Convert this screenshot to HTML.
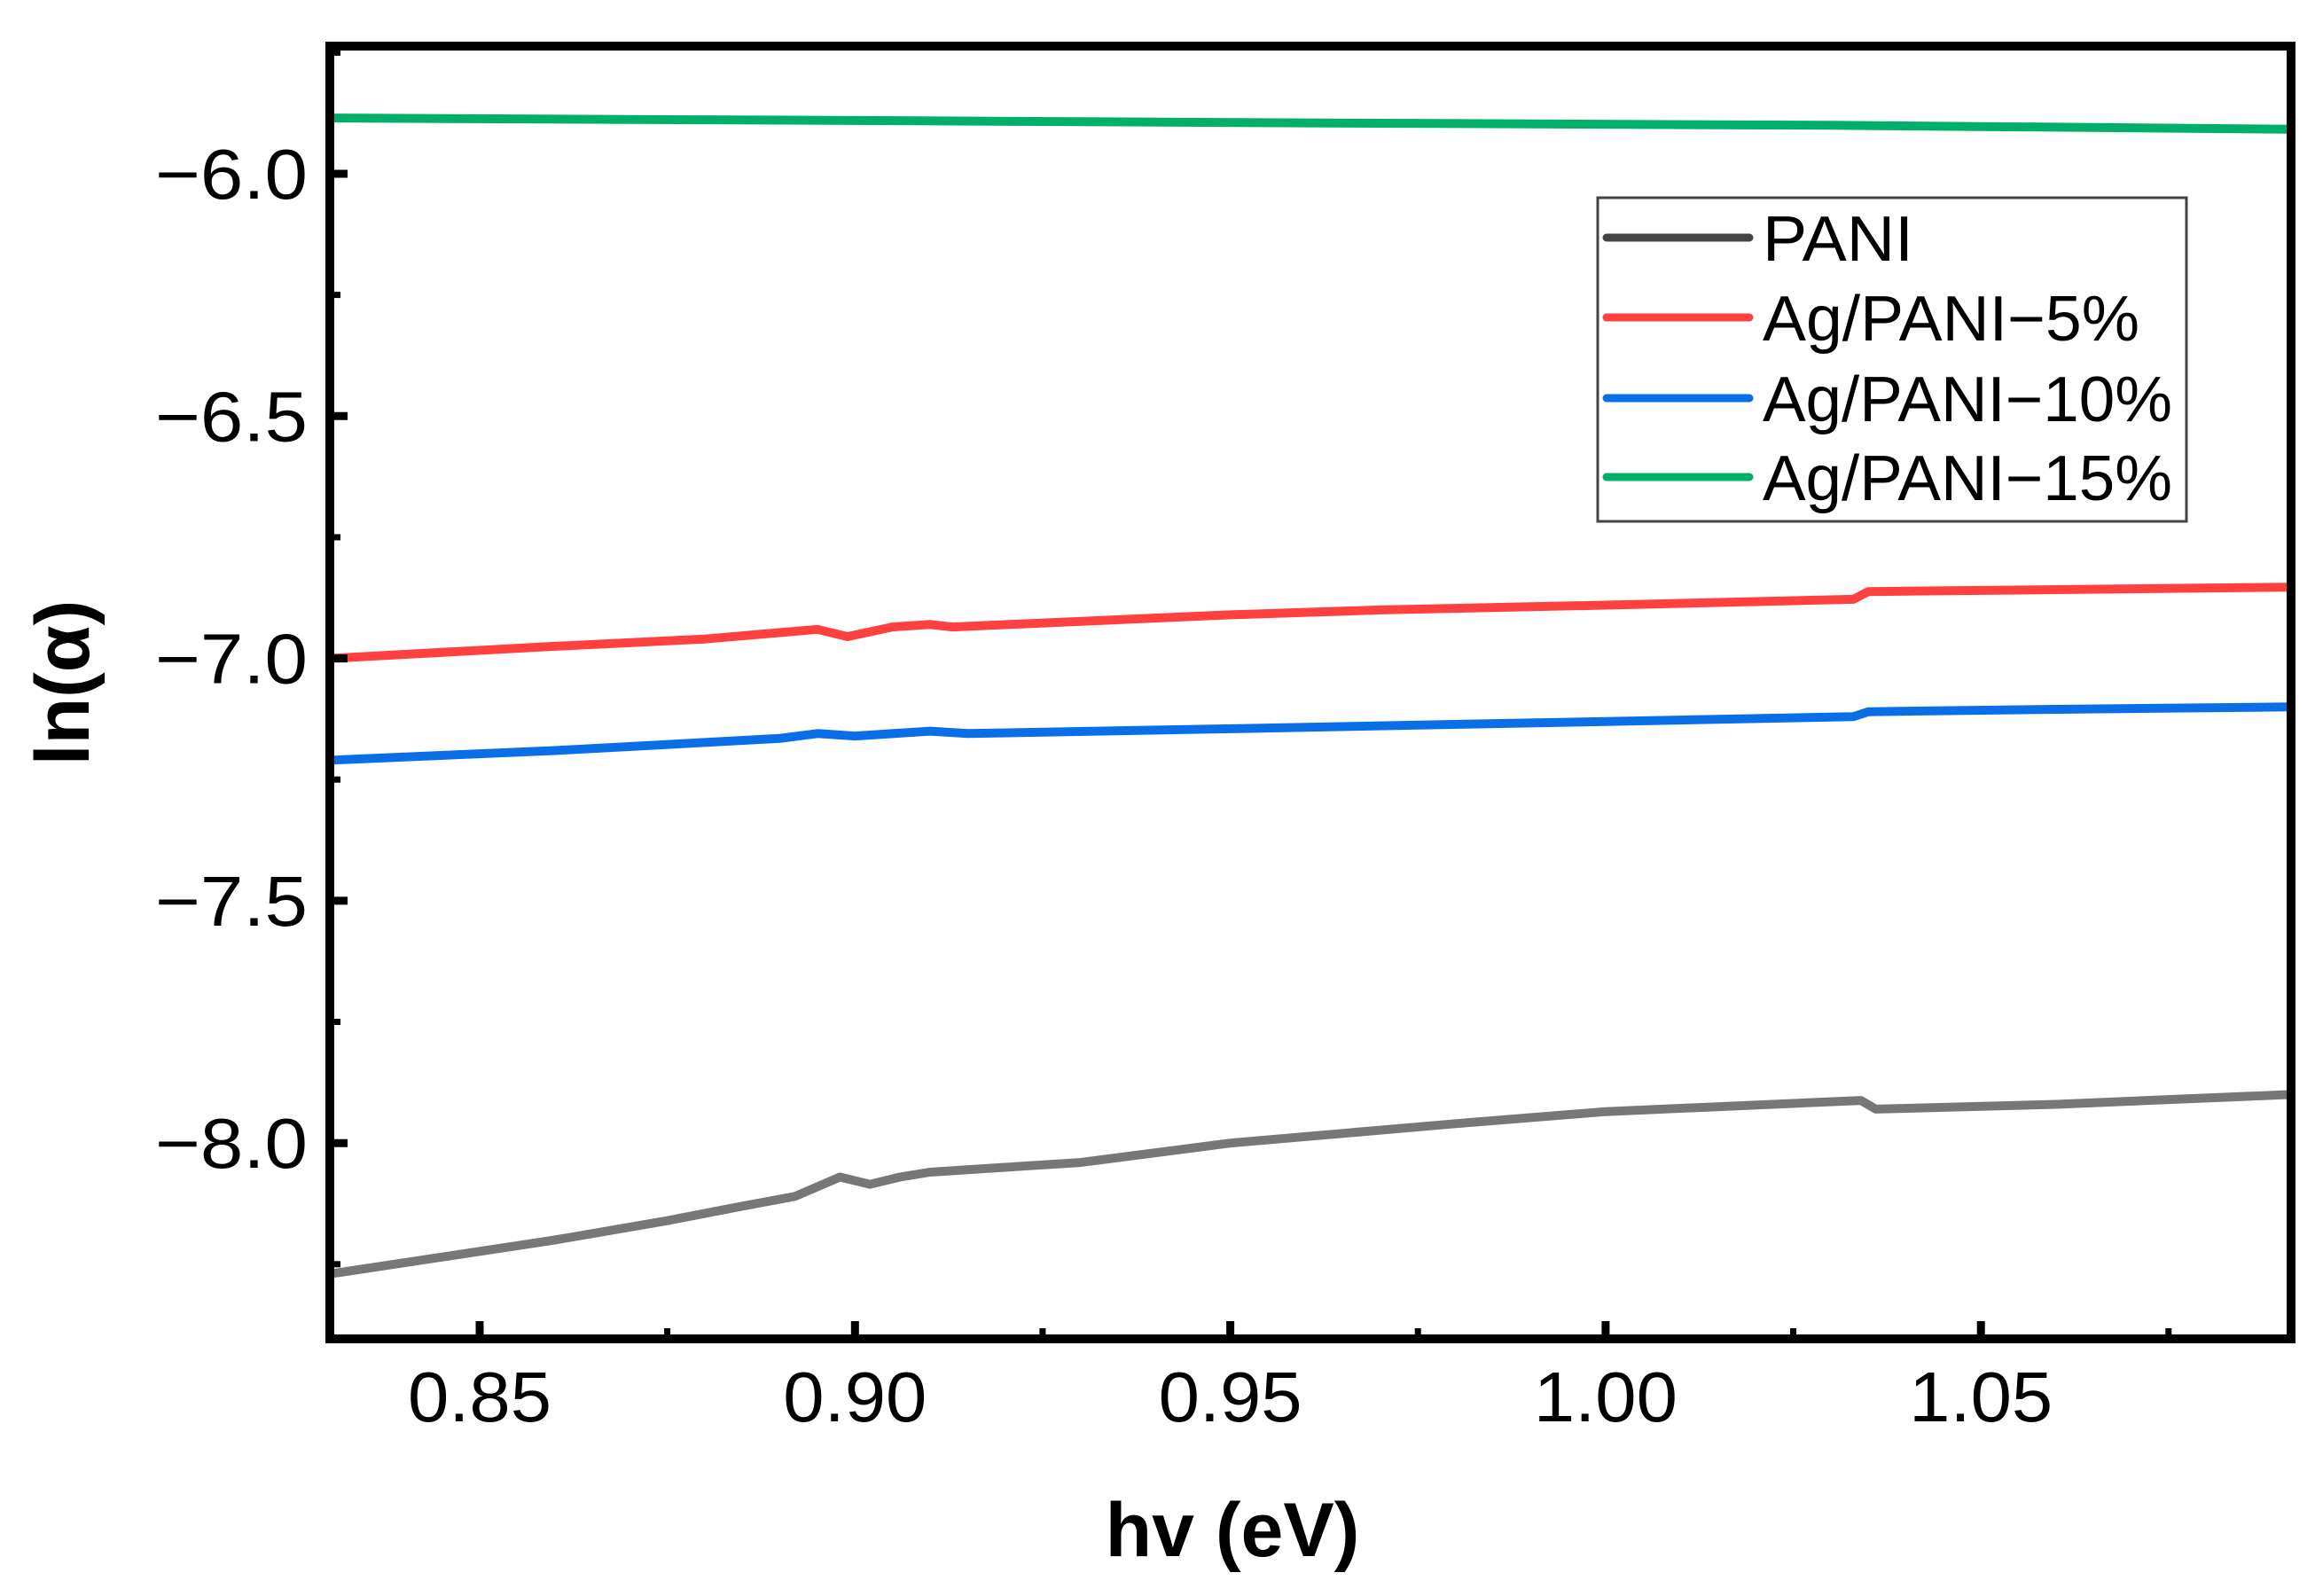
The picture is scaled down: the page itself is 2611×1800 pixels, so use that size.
<!DOCTYPE html>
<html><head><meta charset="utf-8"><style>
html,body{margin:0;padding:0;background:#fff;}
svg{display:block;font-family:"Liberation Sans",Arial,sans-serif;}
</style></head><body>
<svg id="chart" width="2611" height="1800" viewBox="0 0 2611 1800" xmlns="http://www.w3.org/2000/svg">
<g id="series"></g>
<g id="axes"></g>
<text x="1390" y="1755" font-size="86" font-weight="bold" text-anchor="middle">hv (eV)</text>
<text transform="translate(100,770) rotate(-90)" font-size="86" font-weight="bold" text-anchor="middle">ln(α)</text>
<g>
<rect x="1802" y="223" width="664" height="365" fill="#fff" stroke="#444" stroke-width="3"/>
<line x1="1812" y1="268" x2="1973" y2="268" stroke="#444" stroke-width="9" stroke-linecap="round"/>
<text x="1988" y="294" font-size="72" textLength="170" lengthAdjust="spacingAndGlyphs">PANI</text>
<line x1="1812" y1="358" x2="1973" y2="358" stroke="#ff4040" stroke-width="9" stroke-linecap="round"/>
<text x="1988" y="384" font-size="72" textLength="425" lengthAdjust="spacingAndGlyphs">Ag/PANI−5%</text>
<line x1="1812" y1="449" x2="1973" y2="449" stroke="#0a6fe6" stroke-width="9" stroke-linecap="round"/>
<text x="1988" y="475" font-size="72" textLength="462" lengthAdjust="spacingAndGlyphs">Ag/PANI−10%</text>
<line x1="1812" y1="538" x2="1973" y2="538" stroke="#00b06a" stroke-width="9" stroke-linecap="round"/>
<text x="1988" y="564" font-size="72" textLength="462" lengthAdjust="spacingAndGlyphs">Ag/PANI−15%</text>
</g>
</svg>
<script>
const xTicks = [0.85, 0.90, 0.95, 1.00, 1.05];
const xTickLabels = ["0.85", "0.90", "0.95", "1.00", "1.05"];
const yTicks = [-6.0, -6.5, -7.0, -7.5, -8.0];
const yTickLabels = ["−6.0", "−6.5", "−7.0", "−7.5", "−8.0"];
const paniX = [0.83, 0.845, 0.86, 0.875, 0.885, 0.892, 0.898, 0.902, 0.906, 0.91, 0.92, 0.93, 0.95, 0.98, 1.0, 1.034, 1.036, 1.06, 1.091];
const paniY = [-8.27, -8.235, -8.2, -8.16, -8.13, -8.11, -8.07, -8.085, -8.07, -8.06, -8.05, -8.04, -8.0, -7.96, -7.935, -7.912, -7.93, -7.92, -7.90];
const ag5X = [0.83, 0.86, 0.88, 0.895, 0.899, 0.905, 0.91, 0.913, 0.95, 0.97, 1.0, 1.033, 1.035, 1.06, 1.091];
const ag5Y = [-7.0, -6.975, -6.96, -6.94, -6.955, -6.935, -6.93, -6.935, -6.91, -6.90, -6.89, -6.878, -6.862, -6.858, -6.853];
const ag10X = [0.83, 0.86, 0.89, 0.895, 0.9, 0.91, 0.915, 0.95, 1.0, 1.033, 1.035, 1.06, 1.091];
const ag10Y = [-7.21, -7.19, -7.165, -7.155, -7.16, -7.15, -7.155, -7.145, -7.13, -7.12, -7.11, -7.105, -7.10];
const ag15X = [0.83, 0.9, 0.96, 1.03, 1.091];
const ag15Y = [-5.885, -5.89, -5.895, -5.9, -5.908];

const L = 372, R = 2584, T = 52, B = 1510;
const xScale = v => 541 + (v - 0.85) * 8466;
const yScale = v => 196 + (-6 - v) * 546.6;
const NS = "http://www.w3.org/2000/svg";
const sg = document.getElementById('series');
const ag = document.getElementById('axes');
function mk(tag, attrs, parent) {
  const e = document.createElementNS(NS, tag);
  for (const k in attrs) e.setAttribute(k, attrs[k]);
  parent.appendChild(e);
  return e;
}
function drawSeries(xs, ys, color, name) {
  const d = xs.map((x, i) => (i ? 'L' : 'M') + xScale(x).toFixed(1) + ',' + yScale(ys[i]).toFixed(1)).join(' ');
  const p = mk('path', {d: d, fill: 'none', stroke: color, 'stroke-width': 10, 'stroke-linejoin': 'round'}, sg);
  
  
}
drawSeries(ag15X, ag15Y, '#00b06a', 'line-ag-pani-15');
drawSeries(ag5X, ag5Y, '#ff4040', 'line-ag-pani-5');
drawSeries(ag10X, ag10Y, '#0a6fe6', 'line-ag-pani-10');
drawSeries(paniX, paniY, '#777', 'line-pani');

const frame = mk('rect', {x: L, y: T, width: R - L, height: B - T, fill: 'none', stroke: '#000', 'stroke-width': 10}, ag);



xTicks.forEach((v, i) => {
  const x = xScale(v);
  const t = mk('line', {x1: x, y1: B, x2: x, y2: B - 20, stroke: '#000', 'stroke-width': 9}, ag);
  
  
  const m = mk('line', {x1: x + 211.6, y1: B, x2: x + 211.6, y2: B - 12, stroke: '#000', 'stroke-width': 7}, ag);
  
  
  const lb = mk('text', {x: x, y: 1603, 'font-size': 80, 'text-anchor': 'middle', textLength: 162, lengthAdjust: 'spacingAndGlyphs'}, ag);
  lb.textContent = xTickLabels[i];
  
  
});
yTicks.forEach((v, i) => {
  const y = yScale(v);
  const t = mk('line', {x1: L, y1: y, x2: L + 20, y2: y, stroke: '#000', 'stroke-width': 9}, ag);
  
  
  const m = mk('line', {x1: L, y1: y + 136.6, x2: L + 12, y2: y + 136.6, stroke: '#000', 'stroke-width': 7}, ag);
  
  
  const lb = mk('text', {x: 347, y: y + 28, 'font-size': 80, 'text-anchor': 'end', textLength: 172, lengthAdjust: 'spacingAndGlyphs'}, ag);
  lb.textContent = yTickLabels[i];
  
  
});
const m0 = mk('line', {x1: L, y1: yScale(-5.75), x2: L + 12, y2: yScale(-5.75), stroke: '#000', 'stroke-width': 7}, ag);


</script>
</body></html>
